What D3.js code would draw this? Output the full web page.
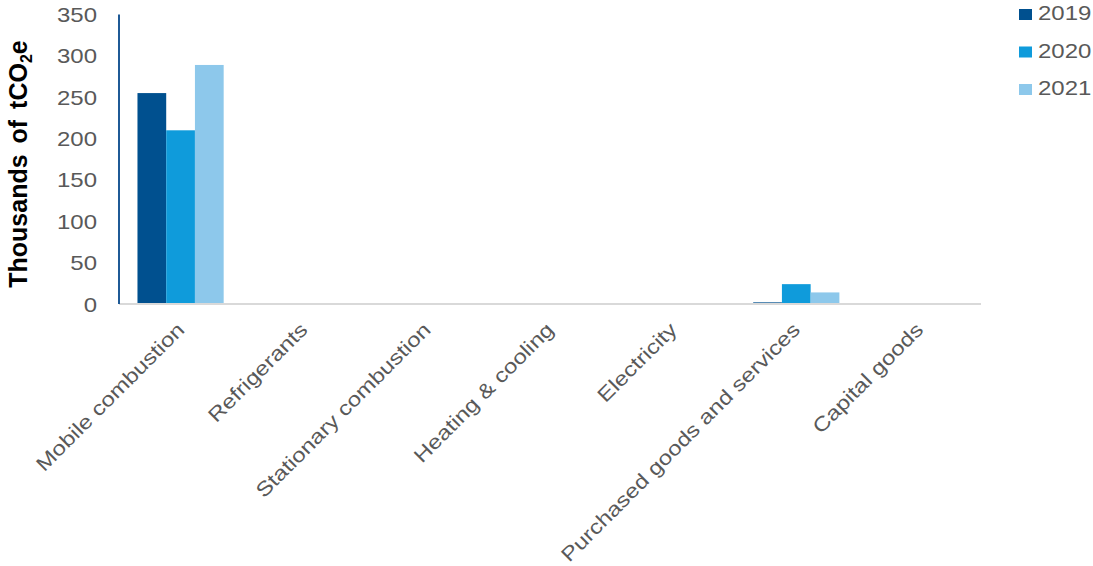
<!DOCTYPE html>
<html>
<head>
<meta charset="utf-8">
<script src="https://cdn.jsdelivr.net/npm/d3@7"></script>
<style>
  html, body { margin: 0; padding: 0; background: #ffffff; }
  svg { display: block; }
  text { font-family: "Liberation Sans", Arial, sans-serif; }
</style>
</head>
<body>
<svg id="chart" width="1093" height="566"></svg>
<script>
// Emission categories and yearly totals (thousands of tCO2e)
const categories = [
  "Mobile combustion",
  "Refrigerants",
  "Stationary combustion",
  "Heating & cooling",
  "Electricity",
  "Purchased goods and services",
  "Capital goods"
];
const years = ["2019", "2020", "2021"];
const values2019 = [255, 0, 0, 0, 0, 2, 0];
const values2020 = [210, 0, 0, 0, 0, 24, 0];
const values2021 = [289, 0, 0, 0, 0, 14, 0];
const yTicks = [0, 50, 100, 150, 200, 250, 300, 350];
const colors = ["#00508f", "#0f9bdb", "#8dc8eb"];

const series = [values2019, values2020, values2021];
const rows = categories.map((c, i) => ({
  category: c,
  values: years.map((yr, j) => ({ year: yr, value: series[j][i] }))
}));

const svg = d3.select("#chart");
const plotLeft = 119, plotRight = 981, plotTop = 14.5, plotBottom = 304;

const x0 = d3.scaleBand()
  .domain(categories)
  .range([plotLeft, plotRight])
  .paddingInner(0.3)
  .paddingOuter(0.15);

const x1 = d3.scaleBand()
  .domain(years)
  .range([0, x0.bandwidth()]);

const y = d3.scaleLinear()
  .domain([0, 350])
  .range([plotBottom, plotTop]);

const color = d3.scaleOrdinal().domain(years).range(colors);

// Bars
svg.append("g")
  .selectAll("g")
  .data(rows)
  .join("g")
  .attr("transform", d => `translate(${x0(d.category)},0)`)
  .selectAll("rect")
  .data(d => d.values)
  .join("rect")
  .attr("x", d => x1(d.year))
  .attr("width", x1.bandwidth())
  .attr("y", d => y(d.value))
  .attr("height", d => y(0) - y(d.value))
  .attr("fill", d => color(d.year));

// Category baseline
svg.append("line")
  .attr("x1", plotLeft).attr("x2", plotRight)
  .attr("y1", y(0)).attr("y2", y(0))
  .attr("stroke", "#d9d9d9")
  .attr("stroke-width", 2);

// Value axis line
svg.append("line")
  .attr("x1", plotLeft).attr("x2", plotLeft)
  .attr("y1", y(350)).attr("y2", y(0))
  .attr("stroke", "#1f5a96")
  .attr("stroke-width", 2);

// Y axis tick labels
svg.append("g")
  .attr("transform", `translate(${plotLeft},0)`)
  .call(d3.axisLeft(y).tickValues(yTicks).tickSize(0).tickFormat(d3.format("d")))
  .call(g => g.select(".domain").remove())
  .call(g => g.selectAll("text")
    .attr("x", 0)
    .attr("dy", null)
    .attr("text-anchor", "end")
    .attr("transform", "translate(-22,7) scale(1.2,1)")
    .attr("fill", "#595959")
    .style("font-size", "20px")
    .style("font-family", "'Liberation Sans', Arial, sans-serif"));

// X axis category labels
svg.append("g")
  .attr("transform", `translate(0,${plotBottom})`)
  .call(d3.axisBottom(x0).tickSize(0))
  .call(g => g.select(".domain").remove())
  .call(g => g.selectAll("text")
    .attr("x", 0)
    .attr("y", 0)
    .attr("dy", null)
    .attr("text-anchor", "end")
    .attr("transform", "translate(5,27) rotate(-45) scale(1.2,1)")
    .attr("fill", "#595959")
    .style("font-size", "20px")
    .style("font-family", "'Liberation Sans', Arial, sans-serif"));

// Y axis title with subscript
const title = svg.append("text")
  .attr("transform", "translate(27,164) rotate(-90)")
  .attr("text-anchor", "middle")
  .attr("fill", "#000000")
  .style("font-size", "25px")
  .style("font-weight", "bold")
  .style("word-spacing", "4px");
title.append("tspan").text("Thousands of tCO");
title.append("tspan").text("2").style("font-size", "16px").attr("dy", 5);
title.append("tspan").text("e").attr("dy", -5);

// Legend
const legend = svg.append("g")
  .selectAll("g")
  .data(years)
  .join("g")
  .attr("transform", (d, i) => `translate(1019,${9 + i * 37.5})`);

legend.append("rect")
  .attr("width", 13)
  .attr("height", 11)
  .attr("fill", d => color(d));

legend.append("text")
  .attr("transform", "translate(19,11) scale(1.2,1)")
  .attr("fill", "#595959")
  .style("font-size", "20px")
  .text(d => d);
</script>
</body>
</html>
